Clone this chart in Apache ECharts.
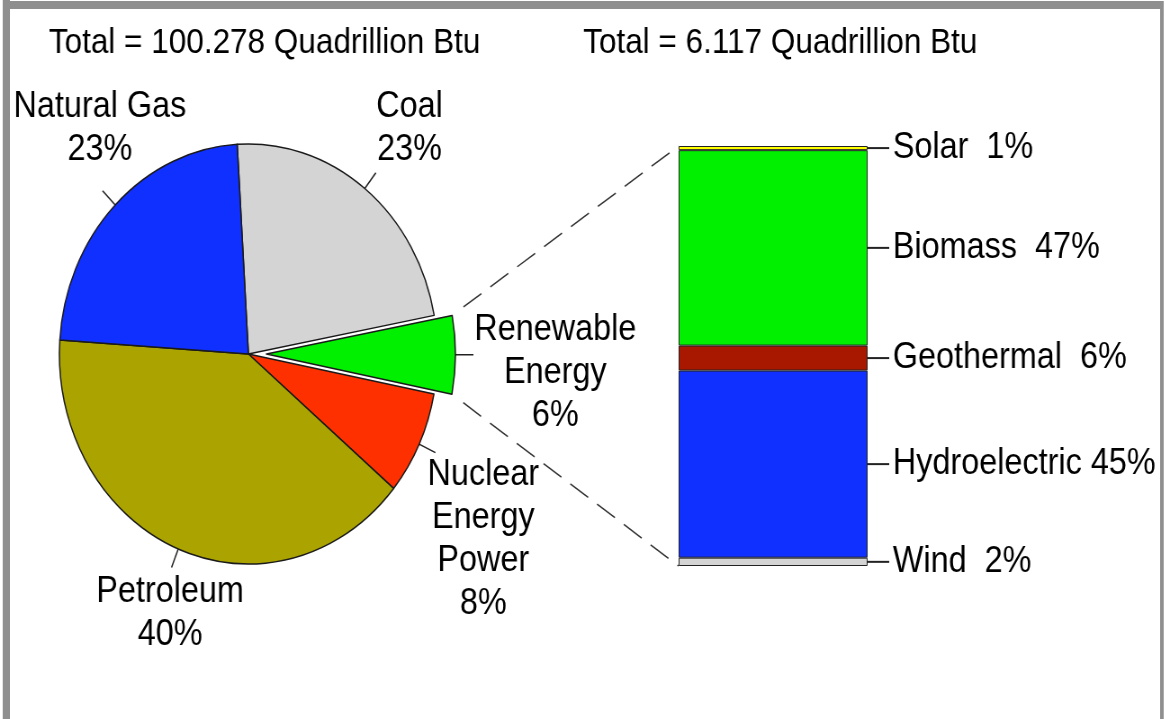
<!DOCTYPE html>
<html>
<head>
<meta charset="utf-8">
<script src="https://cdn.jsdelivr.net/npm/echarts@6/dist/echarts.min.js"></script>
<style>
  html, body { margin: 0; padding: 0; background: #fff; overflow: hidden; }
  /* the original picture is squeezed horizontally (oval pie, narrow text) */
  #chart { width: 1295px; height: 719px; transform: scaleX(0.9); transform-origin: 0 0; }
</style>
</head>
<body>
<div id="chart"></div>
<script>
// total energy consumption by source, percent
const sourceNames = ['Coal', 'Renewable\nEnergy', 'Nuclear\nEnergy\nPower', 'Petroleum', 'Natural Gas']
const sourcePct = [23, 6, 8, 40, 23]
const sourceColors = ['#d4d4d4', '#00f000', '#ff3000', '#aba400', '#1030ff']

// renewable energy breakdown, bottom to top of the bar
const renewNames = ['Wind', 'Hydroelectric', 'Geothermal', 'Biomass', 'Solar']
const renewPct = [2, 45, 6, 47, 1]
const renewColors = ['#d4d4d4', '#1030ff', '#a81800', '#00f000', '#ffff00']

const titles = ['Total = 100.278 Quadrillion Btu', 'Total = 6.117 Quadrillion Btu']

const font = "'Liberation Sans', Arial, sans-serif"
const titleX = [294, 867]
const pieLabelAt = [[455, 129], [617, 373], [537, 540], [189, 614], [111, 129]]
const explode = 20
const pieCenter = [276, 354]
const pieRadius = 210
const pieStart = 93.4

const chart = echarts.init(document.getElementById('chart'))

const barSeries = renewNames.map((name, i) => {
  const gap = name.length > 10 ? ' ' : '  '
  return {
    type: 'bar',
    name: name,
    stack: 'renew',
    barWidth: '100%',
    data: [renewPct[i]],
    itemStyle: { color: renewColors[i], borderColor: '#222', borderWidth: 1 },
    label: {
      show: true,
      position: 'right',
      distance: 0,
      formatter: '{ln| }{t|' + name + gap + renewPct[i] + '%}',
      rich: {
        ln: { width: 24, height: 2, backgroundColor: '#222' },
        t: { fontSize: 36, color: '#000', fontFamily: font, padding: [0, 0, 0, 4] }
      }
    },
    emphasis: { disabled: true }
  }
})

// sectors, with the renewable slice pulled out
const pieSeries = {
  type: 'pie',
  z: 3,
  center: pieCenter,
  radius: pieRadius,
  startAngle: pieStart,
  selectedMode: 'single',
  selectedOffset: explode,
  data: sourceNames.map((n, i) => ({
    name: n,
    value: sourcePct[i],
    selected: i === 1,
    itemStyle: { color: sourceColors[i] }
  })),
  itemStyle: { borderColor: '#1a1a1a', borderWidth: 1.5 },
  select: { itemStyle: { borderColor: '#1a1a1a', borderWidth: 1.5 } },
  emphasis: { disabled: true },
  label: { show: false },
  labelLine: { show: false }
}

// same pie, invisible, only carries the labels and their ticks
const pieLabelSeries = {
  type: 'pie',
  z: 2,
  silent: true,
  center: pieCenter,
  radius: pieRadius,
  startAngle: pieStart,
  selectedMode: false,
  avoidLabelOverlap: false,
  data: sourceNames.map((n, i) => ({
    name: n,
    value: sourcePct[i],
    labelLine: { length: i === 1 ? 20 + explode : 20 }
  })),
  itemStyle: { color: 'rgba(0,0,0,0)', borderWidth: 0 },
  emphasis: { disabled: true },
  label: {
    position: 'outside',
    formatter: p => p.name + '\n' + p.value + '%',
    color: '#000',
    fontSize: 36,
    lineHeight: 43,
    fontFamily: font
  },
  labelLine: { show: true, length: 20, length2: 0, lineStyle: { color: '#222', width: 1.5 } },
  labelLayout: function (params) {
    const p = pieLabelAt[params.dataIndex]
    return {
      x: p[0],
      y: p[1],
      align: 'center',
      verticalAlign: 'middle',
      labelLinePoints: params.labelLinePoints
    }
  }
}

chart.setOption({
  animation: false,
  backgroundColor: '#fff',
  title: titles.map((t, i) => ({
    text: t,
    left: titleX[i],
    top: 26,
    textAlign: 'center',
    padding: 0,
    textStyle: { fontSize: 35, fontWeight: 'normal', color: '#000', fontFamily: font }
  })),
  grid: { left: 754, top: 146, width: 210, height: 420 },
  xAxis: { type: 'category', data: ['renewable'], show: false },
  yAxis: { type: 'value', min: 0, max: 101, show: false },
  series: [pieSeries, pieLabelSeries].concat(barSeries)
})

// dashed lines from the pulled-out slice to the bar corners
const model = chart.getModel()
const pl = model.getSeriesByIndex(0).getData().getItemLayout(1)
const mid = (pl.startAngle + pl.endAngle) / 2
const ox = pl.cx + Math.cos(mid) * explode
const oy = pl.cy + Math.sin(mid) * explode
const sliceTop = [ox + pl.r * Math.cos(pl.startAngle), oy + pl.r * Math.sin(pl.startAngle)]
const sliceBot = [ox + pl.r * Math.cos(pl.endAngle), oy + pl.r * Math.sin(pl.endAngle)]
const topLay = model.getSeriesByIndex(1 + renewNames.length).getData().getItemLayout(0)
const botLay = model.getSeriesByIndex(2).getData().getItemLayout(0)
const barTop = [topLay.x, Math.min(topLay.y, topLay.y + topLay.height)]
const barBot = [botLay.x, Math.max(botLay.y, botLay.y + botLay.height)]

function dashed (a, b) {
  const s = [a[0] + (b[0] - a[0]) * 0.05, a[1] + (b[1] - a[1]) * 0.05]
  return {
    type: 'polyline',
    shape: { points: [s, b] },
    style: { stroke: '#333', lineWidth: 1.5, lineDash: [24, 12], fill: null },
    silent: true
  }
}

chart.setOption({
  graphic: [
    { type: 'rect', shape: { x: 3, y: 0, width: 8, height: 719 }, style: { fill: '#8f8f8f' }, silent: true },
    { type: 'rect', shape: { x: 3, y: 1, width: 1290, height: 8 }, style: { fill: '#8f8f8f' }, silent: true },
    { type: 'rect', shape: { x: 1289, y: 1, width: 4, height: 718 }, style: { fill: '#8f8f8f' }, silent: true },
    dashed(sliceTop, barTop),
    dashed(sliceBot, barBot)
  ]
})
</script>
</body>
</html>
